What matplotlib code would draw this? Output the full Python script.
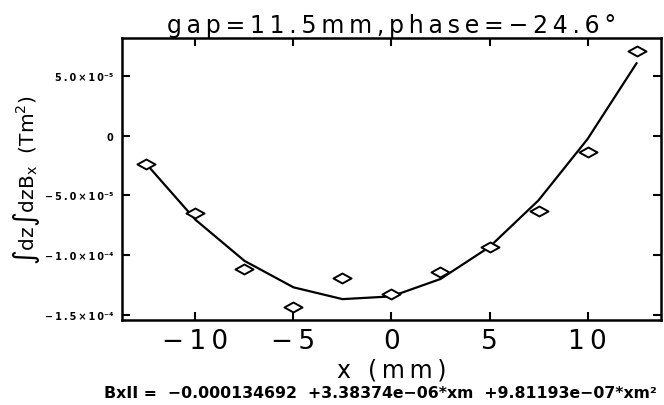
import matplotlib
matplotlib.use("Agg")
import matplotlib.pyplot as plt
from matplotlib.ticker import FuncFormatter
from matplotlib.path import Path

x_mm = [-12.5, -10, -7.5, -5, -2.5, 0, 2.5, 5, 7.5, 10, 12.5]
bx_meas = [-2.39e-5, -6.49e-5, -1.118e-4, -1.436e-4, -1.193e-4, -1.327e-4,
           -1.143e-4, -9.34e-5, -6.32e-5, -1.38e-5, 7.16e-5]
bx_fit = [-2.37e-5, -7.04e-5, -1.049e-4, -1.271e-4, -1.370e-4, -1.347e-4,
          -1.201e-4, -9.32e-5, -5.41e-5, -2.7e-6, 6.09e-5]
xticks = [-10, -5, 0, 5, 10]
yticks = [-1.5e-4, -1.0e-4, -5.0e-5, 0, 5.0e-5]
title = "gap=11.5mm,phase=\u221224.6\u00b0"
fit_text = "BxII =  \u22120.000134692  +3.38374e\u221206*xm  +9.81193e\u221207*xm\u00b2"

TS = "\u2009"  # thin space, to mimic the wide plotter font


def spaced(s):
    return TS.join(s)


sup = str.maketrans("-0123456789", "\u207b\u2070\u00b9\u00b2\u00b3\u2074\u2075\u2076\u2077\u2078\u2079")


def yfmt(v, pos):
    if v == 0:
        return "0"
    m, e = f"{v:.1e}".split("e")
    return spaced(m.replace('-', chr(0x2212)) + "\u00d710") + str(int(e)).translate(sup)


def xfmt(v, pos):
    return spaced(f"{int(v)}".replace("-", "\u2212"))


diamond = Path([(-1, 0), (0, 0.55), (1, 0), (0, -0.55), (-1, 0)],
               [Path.MOVETO, Path.LINETO, Path.LINETO, Path.LINETO, Path.CLOSEPOLY])

fig = plt.figure(figsize=(6.64, 4.06), dpi=100)
ax = fig.add_axes([0.1837, 0.2094, 0.8118, 0.6956])

ax.plot(x_mm, bx_fit, color="black", lw=1.6)
ax.plot(x_mm, bx_meas, linestyle="none", marker=diamond, markersize=13,
        markerfacecolor="white", markeredgecolor="black", markeredgewidth=1.4)

ax.set_xlim(-13.75, 13.75)
ax.set_ylim(-1.545e-4, 8.25e-5)
ax.set_xticks(xticks)
ax.set_yticks(yticks)
ax.yaxis.set_major_formatter(FuncFormatter(yfmt))
ax.xaxis.set_major_formatter(FuncFormatter(xfmt))
ax.tick_params(direction="in", top=True, right=True, length=6, width=1.5)
ax.tick_params(axis="x", labelsize=19, pad=6)
ax.tick_params(axis="y", labelsize=7, pad=6)
for lab in ax.get_yticklabels():
    lab.set_fontweight("bold")
for s in ax.spines.values():
    s.set_linewidth(1.8)

ax.set_title(spaced(title), fontsize=17, pad=4)
ax.set_xlabel(spaced("x (mm)"), fontsize=17, labelpad=2)
ax.set_ylabel("\u222bdz\u222bdzB$_\\mathregular{x}$  (Tm$^\\mathregular{2}$)", fontsize=14.5, labelpad=2)
fig.text(0.573, 0.032, fit_text, ha="center", va="center", fontsize=11.3, fontweight="bold")

fig.savefig("out.png", dpi=100)
